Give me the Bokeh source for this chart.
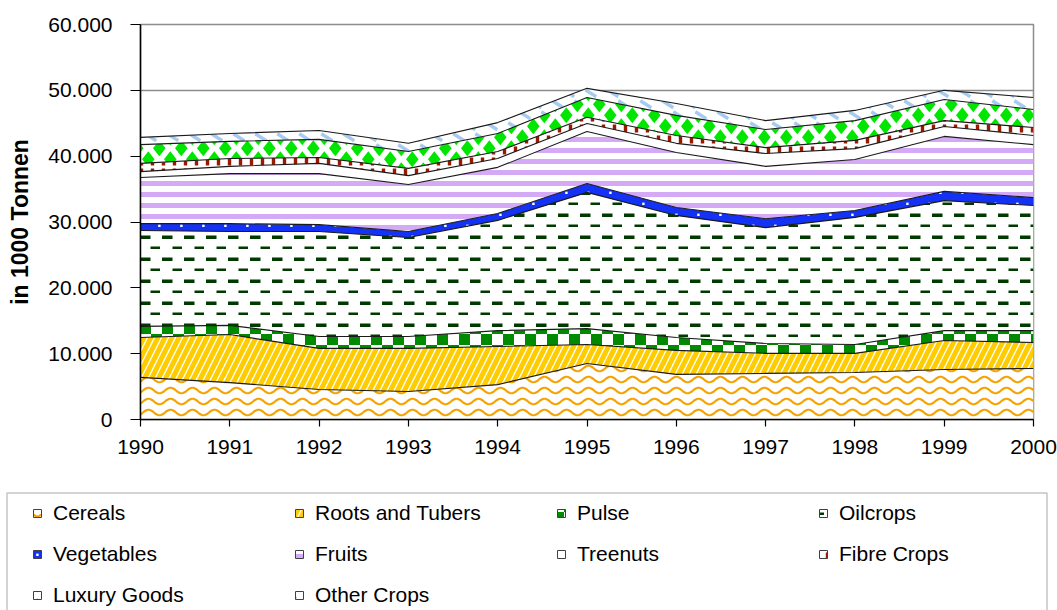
from bokeh.plotting import figure
from bokeh.models import (Range1d, FixedTicker, CanvasTexture, Legend, LegendItem,
                          ColumnDataSource, BoxAnnotation)
from bokeh.layouts import column
from bokeh.transform import stack
from bokeh.core.properties import value
from bokeh.embed import file_html
from bokeh.resources import INLINE

# ---------------- data (1000 t) ----------------
years = [1990, 1991, 1992, 1993, 1994, 1995, 1996, 1997, 1998, 1999, 2000]
cereals = [6400, 5600, 4550, 4250, 5300, 8500, 6850, 7000, 7150, 7600, 7750]
roots = [6050, 7300, 6250, 6550, 5800, 2900, 3650, 3050, 2900, 4400, 3950]
pulse = [1700, 1400, 1800, 1800, 2400, 2400, 1950, 1500, 1350, 1500, 1800]
oilcrops = [14550, 14250, 15950, 15050, 16750, 20700, 18550, 17600, 19300, 19750, 19000]
vegetables = [1050, 1200, 1050, 900, 1050, 1350, 1200, 1350, 1050, 1400, 1200]
fruits = [7000, 7600, 7750, 7150, 7000, 7900, 8350, 7950, 7750, 8350, 8050]
treenuts = [900, 1100, 1550, 1350, 1350, 1200, 1400, 1950, 1650, 1500, 1400]
fibre = [1250, 1200, 900, 1100, 1050, 950, 1200, 900, 1250, 900, 1200]
luxury = [2850, 2600, 2750, 2550, 2750, 3000, 3050, 2750, 3000, 3200, 2750]
other = [1100, 1200, 1350, 1250, 1650, 1400, 1800, 1350, 1550, 1400, 1800]

series_keys = ["cereals", "roots", "pulse", "oilcrops", "vegetables",
               "fruits", "treenuts", "fibre", "luxury", "other"]
series_labels = ["Cereals", "Roots and Tubers", "Pulse", "Oilcrops", "Vegetables",
                 "Fruits", "Treenuts", "Fibre Crops", "Luxury Goods", "Other Crops"]

y_ticks = [0, 10000, 20000, 30000, 40000, 50000, 60000]
y_tick_labels = ["0", "10.000", "20.000", "30.000", "40.000", "50.000", "60.000"]
x_tick_labels = ["1990", "1991", "1992", "1993", "1994", "1995",
                 "1996", "1997", "1998", "1999", "2000"]
axis_title = "in 1000 Tonnen"

source = ColumnDataSource(dict(year=years, cereals=cereals, roots=roots, pulse=pulse,
                               oilcrops=oilcrops, vegetables=vegetables, fruits=fruits,
                               treenuts=treenuts, fibre=fibre, luxury=luxury, other=other))

# ---------------- pattern textures ----------------
def tile_js(size, body):
    head = (
        "const S = %d;\n"
        "const cv = ctx.canvas; if (cv) { cv.width = S; cv.height = S; }\n"
        "function R(x, y, w, h) { for (const dx of [-S, 0, S]) { for (const dy of [-S, 0, S]) "
        "{ ctx.fillRect(x + dx, y + dy, w, h); } } }\n"
        "function D(x, y, rx, ry) { for (const dx of [-S, 0, S]) { for (const dy of [-S, 0, S]) {"
        " const cx = x + dx, cy = y + dy; ctx.beginPath(); ctx.moveTo(cx, cy - ry);"
        " ctx.lineTo(cx + rx, cy); ctx.lineTo(cx, cy + ry); ctx.lineTo(cx - rx, cy);"
        " ctx.closePath(); ctx.fill(); } } }\n"
        "function L(x, y, hx, hy) { for (const dx of [-S, 0, S]) { for (const dy of [-S, 0, S]) {"
        " const cx = x + dx, cy = y + dy; ctx.beginPath(); ctx.moveTo(cx - hx, cy - hy);"
        " ctx.lineTo(cx + hx, cy + hy); ctx.stroke(); } } }\n"
    ) % size
    return head + body


JS_CEREAL = tile_js(22, """
ctx.strokeStyle = '#F5A300';
ctx.lineWidth = 2.2;
for (const yc of [5.5, 16.5]) {
  ctx.beginPath();
  for (let x = -2; x <= 24; x += 1) {
    const y = yc + 2.8 * Math.sin(2 * Math.PI * x / 22);
    if (x === -2) { ctx.moveTo(x, y); } else { ctx.lineTo(x, y); }
  }
  ctx.stroke();
}
""")
JS_PULSE = tile_js(22, """
ctx.fillStyle = '#008A00';
R(8, 15, 11, 11);
R(19, 4, 11, 11);
""")
JS_OIL = tile_js(22, """
ctx.fillStyle = '#003A00';
R(8, 15.5, 10.5, 3.5);
R(18.5, 4.5, 9.5, 2.5);
""")
JS_VEG = tile_js(22, """
ctx.fillStyle = '#FFFFFF';
R(4.2, 4.6, 2.4, 2.4);
R(15.2, 15.6, 2.4, 2.4);
""")
JS_FRUIT = tile_js(11, """
ctx.fillStyle = '#D4AAF7';
R(0, 5, 11, 5);
""")
JS_FIBRE = tile_js(11, """
ctx.fillStyle = '#991A00';
R(7.8, 3.5, 3.4, 8);
""")
JS_LUX = tile_js(22, """
ctx.fillStyle = '#00E600';
D(5.3, 16.3, 6.3, 8);
D(16.3, 5.3, 6.3, 8);
""")
JS_OTHER = tile_js(22, """
ctx.strokeStyle = '#A6CAF0';
ctx.lineWidth = 3.4;
L(18.8, 5.3, 5.5, 3.5);
L(7.8, 16.3, 5.5, 3.5);
""")

textures = {
    "cereal_wave": CanvasTexture(code=JS_CEREAL),
    "pulse_check": CanvasTexture(code=JS_PULSE),
    "oil_dash": CanvasTexture(code=JS_OIL),
    "veg_dots": CanvasTexture(code=JS_VEG),
    "fruit_stripe": CanvasTexture(code=JS_FRUIT),
    "fibre_tick": CanvasTexture(code=JS_FIBRE),
    "lux_diamond": CanvasTexture(code=JS_LUX),
    "other_dash": CanvasTexture(code=JS_OTHER),
}

# fill colour, hatch pattern, hatch colour, hatch scale, hatch weight
styles = {
    "cereals": ("white", "cereal_wave", "black", 22, 1),
    "roots": ("white", "/", "#FFCC00", 14, 5),
    "pulse": ("white", "pulse_check", "black", 22, 1),
    "oilcrops": ("white", "oil_dash", "black", 22, 1),
    "vegetables": ("#1432F5", "veg_dots", "white", 22, 1),
    "fruits": ("white", "fruit_stripe", "black", 11, 1),
    "treenuts": ("white", None, "black", 12, 1),
    "fibre": ("white", "fibre_tick", "black", 11, 1),
    "luxury": ("white", "lux_diamond", "black", 22, 1),
    "other": ("white", "other_dash", "black", 22, 1),
}

FONT = "Liberation Sans"


def style_kwargs(key):
    fc, hp, hc, hs, hw = styles[key]
    kw = dict(fill_color=fc, hatch_color=hc, hatch_scale=hs, hatch_weight=hw,
              hatch_extra=textures)
    kw["hatch_pattern"] = value(hp) if hp is not None else None
    return kw


# ---------------- main chart ----------------
fig = figure(width=1057, height=488, x_range=Range1d(1990, 2000), y_range=Range1d(0, 60000),
             output_backend="svg", toolbar_location=None,
             min_border_left=140, min_border_right=24, min_border_top=24, min_border_bottom=69)
fig.frame_align = False
fig.background_fill_color = "white"
fig.border_fill_color = "white"
fig.outline_line_color = "#8c8c8c"
fig.outline_line_width = 1.5

for i, key in enumerate(series_keys):
    y1 = stack(*series_keys[:i]) if i > 0 else 0
    y2 = stack(*series_keys[:i + 1])
    fig.varea(x="year", y1=y1, y2=y2, source=source, **style_kwargs(key))

for i, key in enumerate(series_keys):
    fig.line(x="year", y=stack(*series_keys[:i + 1]), source=source,
             line_color="#1a1a1a", line_width=1.1)

fig.xgrid.visible = False
fig.ygrid.grid_line_color = "#8c8c8c"
fig.ygrid.grid_line_width = 1.5

fig.yaxis.ticker = FixedTicker(ticks=y_ticks)
fig.yaxis.major_label_overrides = dict(zip(y_ticks, y_tick_labels))
fig.xaxis.ticker = FixedTicker(ticks=years)
fig.xaxis.major_label_overrides = dict(zip(years, x_tick_labels))

for ax in (fig.xaxis, fig.yaxis):
    ax.axis_line_color = "black"
    ax.axis_line_width = 1.5
    ax.major_tick_line_color = "black"
    ax.major_tick_line_width = 1.2
    ax.minor_tick_line_color = None
    ax.major_tick_in = 0
    ax.major_label_text_font = FONT
    ax.major_label_text_font_size = "21px"
    ax.major_label_text_color = "black"

fig.yaxis.major_tick_out = 10
fig.yaxis.major_label_standoff = 18
fig.xaxis.major_tick_out = 7
fig.xaxis.major_label_standoff = 13

fig.yaxis.axis_label = axis_title
fig.yaxis.axis_label_text_font = FONT
fig.yaxis.axis_label_text_font_style = "bold"
fig.yaxis.axis_label_text_font_size = "23px"
fig.yaxis.axis_label_text_color = "black"
fig.yaxis.axis_label_standoff = 12

# ---------------- legend panel ----------------
leg = figure(width=1057, height=122, x_range=Range1d(0, 1057), y_range=Range1d(0, 122),
             output_backend="svg", toolbar_location=None, min_border=0,
             x_axis_type=None, y_axis_type=None)
leg.frame_align = False
leg.outline_line_color = None
leg.background_fill_color = "white"
leg.border_fill_color = "white"
leg.grid.visible = False

leg.add_layout(BoxAnnotation(left=6.5, right=1046.5, top=117.5, bottom=-60,
                             fill_alpha=0, line_color="#404040", line_width=1.5))

# swatch renderers reuse the real data; it lies outside this panel's ranges
items = []
for i, (key, lab) in enumerate(zip(series_keys, series_labels)):
    y1 = stack(*series_keys[:i]) if i > 0 else 0
    r = leg.quad(left="year", right="year", bottom=y1, top=stack(*series_keys[:i + 1]),
                 source=source, line_color="#404040", line_width=1, **style_kwargs(key))
    items.append(LegendItem(label=lab, renderers=[r]))

legend = Legend(items=items, ncols=4, orientation="horizontal", location=(32, 3),
                glyph_width=10, glyph_height=10, label_standoff=11, label_width=224,
                spacing=17, padding=0, margin=0, border_line_alpha=0,
                background_fill_alpha=0, label_text_font=FONT,
                label_text_font_size="21px", label_text_color="black")
leg.add_layout(legend)

p = column(fig, leg)

open("out.html", "w").write(file_html(p, INLINE))
